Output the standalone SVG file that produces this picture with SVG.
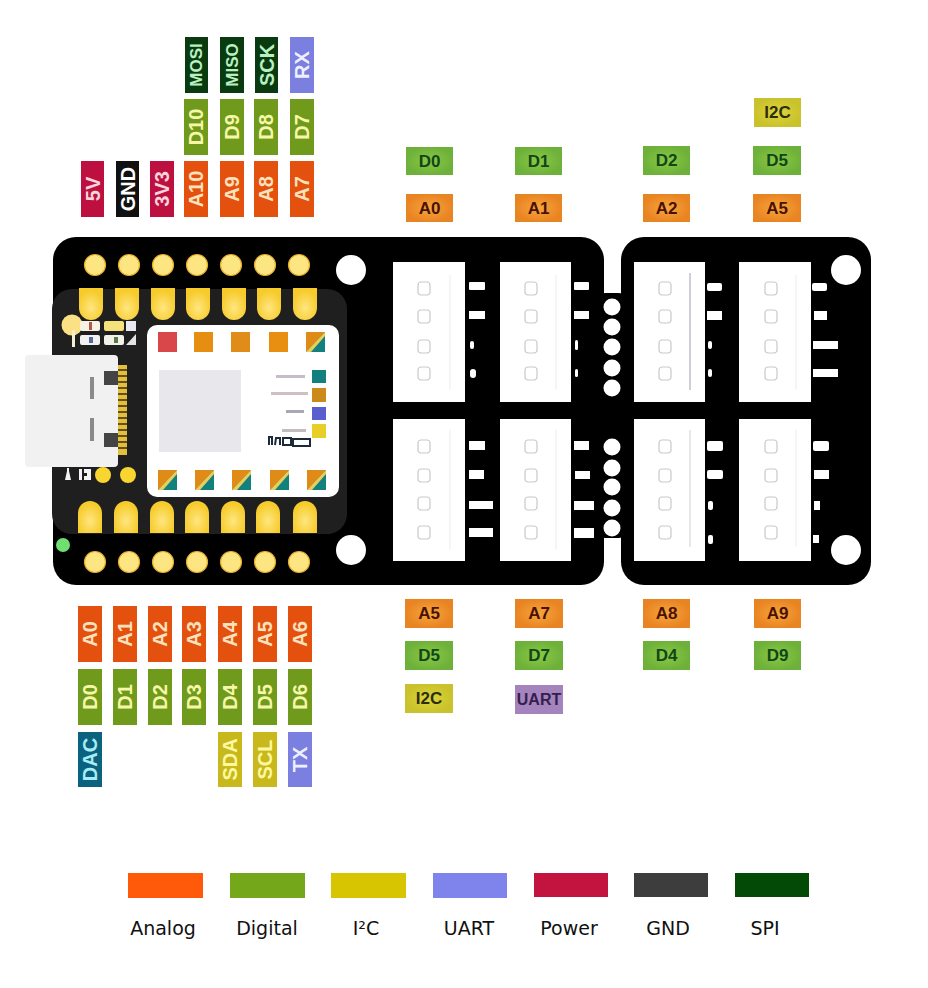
<svg xmlns="http://www.w3.org/2000/svg" width="928" height="988" viewBox="0 0 928 988">
<style>
text{font-family:"Liberation Sans",Arial,sans-serif;font-weight:700;text-anchor:middle;dominant-baseline:central}
.v{font-size:20px}.vs{font-size:17px}.h{font-size:17px}
.an{fill:#e4510f}.di{fill:#6f9a1b}.i2{fill:#c9b81c}.sp{fill:#0a3b10}.ua{fill:#7a7fe0}.pw{fill:#bd0f40}.gn{fill:#111}.da{fill:#0b627f}
.tan{fill:#fbe2bd}.tdi{fill:#f6f7a8}.ti2{fill:#fdf9a0}.tsp{fill:#b9f0c0}.tua{fill:#eef0ff}.tpw{fill:#fbd5dc}.tgn{fill:#fff}.tda{fill:#a8ecf5}
.ho{fill:url(#gO)}.hg{fill:url(#gG)}.hy{fill:url(#gY)}.hu{fill:#a583bd}
.dk{fill:#4a1206}.dg{fill:#0e4718}.dy{fill:#2d2d10}.dp{fill:#33204d}
.hole{fill:#fff}
.th{fill:#fde682;stroke:#e6ad2b;stroke-width:1.2}
.pad{fill:url(#gP)}
.conn{fill:#fff}
.mark{fill:none;stroke:#c9c9c9;stroke-width:1.2}
.pin{fill:#fff}
.lg{font-family:"DejaVu Sans",sans-serif;font-weight:400;font-size:19px;fill:#111}
</style>
<defs>
<radialGradient id="gO"><stop offset="0" stop-color="#f6a63c"/><stop offset="1" stop-color="#e98422"/></radialGradient>
<radialGradient id="gG"><stop offset="0" stop-color="#8cc844"/><stop offset="1" stop-color="#6eb13a"/></radialGradient>
<radialGradient id="gY"><stop offset="0" stop-color="#ddd53a"/><stop offset="1" stop-color="#c9c22c"/></radialGradient>
<radialGradient id="gP" cx="0.5" cy="0.62" r="0.55"><stop offset="0" stop-color="#ffe680"/><stop offset="1" stop-color="#f6cb2a"/></radialGradient>
<path id="padT" d="M-12 0h24v20a12 12 0 0 1-24 0z"/>
<path id="padB" d="M-12 32h24v-20a12 12 0 0 0-24 0z"/>
<g id="multi"><rect width="19" height="20" fill="#12807e"/><path d="M0 0h19L0 20z" fill="#e08a18"/><path d="M19 0v4L5 20H0z" fill="#e8cf5a"/></g>
<rect id="mk" x="-6" y="-6" width="12" height="13" rx="3" class="mark"/>
</defs>

<g id="labels-top">
<g id="p-5v"><rect x="81" y="161" width="23" height="56" class="pw"/><text class="v tpw" transform="translate(92.5 189) rotate(-90)">5V</text></g>
<g id="p-gnd"><rect x="116" y="161" width="23" height="56" class="gn"/><text class="v tgn" transform="translate(127.5 189) rotate(-90)">GND</text></g>
<g id="p-3v3"><rect x="150" y="161" width="24" height="56" class="pw"/><text class="v tpw" transform="translate(162 189) rotate(-90)">3V3</text></g>
<g id="p-a10"><rect x="184" y="161" width="24" height="56" class="an"/><text class="v tan" transform="translate(196 189) rotate(-90)">A10</text></g>
<g id="p-a9"><rect x="220" y="161" width="24" height="56" class="an"/><text class="v tan" transform="translate(232 189) rotate(-90)">A9</text></g>
<g id="p-a8"><rect x="254" y="161" width="24" height="56" class="an"/><text class="v tan" transform="translate(266 189) rotate(-90)">A8</text></g>
<g id="p-a7"><rect x="290" y="161" width="24" height="56" class="an"/><text class="v tan" transform="translate(302 189) rotate(-90)">A7</text></g>
<g id="p-d10"><rect x="184" y="99" width="24" height="56" class="di"/><text class="v tdi" transform="translate(196 127) rotate(-90)">D10</text></g>
<g id="p-d9"><rect x="220" y="99" width="24" height="56" class="di"/><text class="v tdi" transform="translate(232 127) rotate(-90)">D9</text></g>
<g id="p-d8"><rect x="254" y="99" width="24" height="56" class="di"/><text class="v tdi" transform="translate(266 127) rotate(-90)">D8</text></g>
<g id="p-d7"><rect x="290" y="99" width="24" height="56" class="di"/><text class="v tdi" transform="translate(302 127) rotate(-90)">D7</text></g>
<g id="p-mosi"><rect x="185" y="37" width="23" height="56" class="sp"/><text class="vs tsp" transform="translate(196.5 65) rotate(-90)">MOSI</text></g>
<g id="p-miso"><rect x="220" y="37" width="24" height="56" class="sp"/><text class="vs tsp" transform="translate(232 65) rotate(-90)">MISO</text></g>
<g id="p-sck"><rect x="255" y="37" width="23" height="56" class="sp"/><text class="v tsp" transform="translate(266.500 65) rotate(-90)">SCK</text></g>
<g id="p-rx"><rect x="290" y="37" width="24" height="56" class="ua"/><text class="v tua" transform="translate(302 65) rotate(-90)">RX</text></g>
</g>

<g id="labels-bottom">
<g id="b-a0"><rect x="78" y="606" width="24" height="56" class="an"/><text class="v tan" transform="translate(90 634) rotate(-90)">A0</text></g>
<g id="b-a1"><rect x="113" y="606" width="24" height="56" class="an"/><text class="v tan" transform="translate(125 634) rotate(-90)">A1</text></g>
<g id="b-a2"><rect x="148" y="606" width="24" height="56" class="an"/><text class="v tan" transform="translate(160 634) rotate(-90)">A2</text></g>
<g id="b-a3"><rect x="182" y="606" width="24" height="56" class="an"/><text class="v tan" transform="translate(194 634) rotate(-90)">A3</text></g>
<g id="b-a4"><rect x="218" y="606" width="24" height="56" class="an"/><text class="v tan" transform="translate(230 634) rotate(-90)">A4</text></g>
<g id="b-a5"><rect x="253" y="606" width="24" height="56" class="an"/><text class="v tan" transform="translate(265 634) rotate(-90)">A5</text></g>
<g id="b-a6"><rect x="288" y="606" width="24" height="56" class="an"/><text class="v tan" transform="translate(300 634) rotate(-90)">A6</text></g>
<g id="b-d0"><rect x="78" y="669" width="24" height="56" class="di"/><text class="v tdi" transform="translate(90 697) rotate(-90)">D0</text></g>
<g id="b-d1"><rect x="113" y="669" width="24" height="56" class="di"/><text class="v tdi" transform="translate(125 697) rotate(-90)">D1</text></g>
<g id="b-d2"><rect x="148" y="669" width="24" height="56" class="di"/><text class="v tdi" transform="translate(160 697) rotate(-90)">D2</text></g>
<g id="b-d3"><rect x="182" y="669" width="24" height="56" class="di"/><text class="v tdi" transform="translate(194 697) rotate(-90)">D3</text></g>
<g id="b-d4"><rect x="218" y="669" width="24" height="56" class="di"/><text class="v tdi" transform="translate(230 697) rotate(-90)">D4</text></g>
<g id="b-d5"><rect x="253" y="669" width="24" height="56" class="di"/><text class="v tdi" transform="translate(265 697) rotate(-90)">D5</text></g>
<g id="b-d6"><rect x="288" y="669" width="24" height="56" class="di"/><text class="v tdi" transform="translate(300 697) rotate(-90)">D6</text></g>
<g id="b-dac"><rect x="78" y="732" width="24" height="55" class="da"/><text class="v tda" transform="translate(90 759.500) rotate(-90)">DAC</text></g>
<g id="b-sda"><rect x="218" y="732" width="24" height="55" class="i2"/><text class="v ti2" transform="translate(230 759.500) rotate(-90)">SDA</text></g>
<g id="b-scl"><rect x="253" y="732" width="24" height="55" class="i2"/><text class="v ti2" transform="translate(265 759.500) rotate(-90)">SCL</text></g>
<g id="b-tx"><rect x="288" y="732" width="24" height="55" class="ua"/><text class="v tua" transform="translate(300 759.500) rotate(-90)">TX</text></g>
</g>

<g id="labels-grove-top">
<g id="g-d0"><rect x="406" y="147" width="47" height="28" class="hg"/><text class="h dg" x="429.500" y="161">D0</text></g>
<g id="g-a0"><rect x="406" y="194" width="47" height="28" class="ho"/><text class="h dk" x="429.500" y="208">A0</text></g>
<g id="g-d1"><rect x="515" y="147" width="47" height="28" class="hg"/><text class="h dg" x="538.500" y="161">D1</text></g>
<g id="g-a1"><rect x="515" y="194" width="47" height="28" class="ho"/><text class="h dk" x="538.500" y="208">A1</text></g>
<g id="g-d2"><rect x="643" y="146" width="47" height="29" class="hg"/><text class="h dg" x="666.500" y="160.500">D2</text></g>
<g id="g-a2"><rect x="643" y="194" width="47" height="28" class="ho"/><text class="h dk" x="666.500" y="208">A2</text></g>
<g id="g-i2c-t"><rect x="754" y="98" width="47" height="29" class="hy"/><text class="h dy" x="777.500" y="112.500">I2C</text></g>
<g id="g-d5-t"><rect x="753" y="146" width="48" height="29" class="hg"/><text class="h dg" x="777" y="160.500">D5</text></g>
<g id="g-a5-t"><rect x="753" y="194" width="48" height="28" class="ho"/><text class="h dk" x="777" y="208">A5</text></g>
</g>

<g id="labels-grove-bottom">
<g id="g-a5-b"><rect x="405" y="599" width="48" height="29" class="ho"/><text class="h dk" x="429" y="613.500">A5</text></g>
<g id="g-d5-b"><rect x="405" y="641" width="48" height="29" class="hg"/><text class="h dg" x="429" y="655.500">D5</text></g>
<g id="g-i2c-b"><rect x="405" y="684" width="48" height="29" class="hy"/><text class="h dy" x="429" y="698.500">I2C</text></g>
<g id="g-a7"><rect x="515" y="599" width="48" height="29" class="ho"/><text class="h dk" x="539" y="613.500">A7</text></g>
<g id="g-d7"><rect x="515" y="641" width="48" height="29" class="hg"/><text class="h dg" x="539" y="655.500">D7</text></g>
<g id="g-uart"><rect x="515" y="685" width="48" height="29" class="hu"/><text class="h dp" style="font-size:16px" x="539" y="699.500">UART</text></g>
<g id="g-a8"><rect x="643" y="599" width="47" height="29" class="ho"/><text class="h dk" x="666.500" y="613.500">A8</text></g>
<g id="g-d4"><rect x="643" y="641" width="47" height="29" class="hg"/><text class="h dg" x="666.500" y="655.500">D4</text></g>
<g id="g-a9"><rect x="754" y="599" width="47" height="29" class="ho"/><text class="h dk" x="777.500" y="613.500">A9</text></g>
<g id="g-d9"><rect x="754" y="641" width="47" height="29" class="hg"/><text class="h dg" x="777.500" y="655.500">D9</text></g>
</g>

<g id="board">
<rect x="53" y="237" width="551" height="348" rx="23" fill="#000"/>
<rect x="621" y="237" width="250" height="348" rx="23" fill="#000"/>
<rect x="598" y="293" width="28" height="245" rx="7" fill="#000"/>
<g class="hole">
<circle cx="351" cy="270" r="15"/><circle cx="351" cy="550" r="15"/><circle cx="846" cy="270" r="15"/><circle cx="846" cy="550" r="15"/>
<circle cx="612" cy="307" r="8.500"/><circle cx="612" cy="327" r="8.500"/><circle cx="612" cy="347" r="8.500"/><circle cx="612" cy="368" r="8.500"/><circle cx="612" cy="388" r="8.500"/>
<circle cx="612" cy="447" r="8.500"/><circle cx="612" cy="468" r="8.500"/><circle cx="612" cy="487" r="8.500"/><circle cx="612" cy="508" r="8.500"/><circle cx="612" cy="528" r="8.500"/>
</g>
<g class="th">
<circle cx="95" cy="265" r="10.500"/><circle cx="129" cy="265" r="10.500"/><circle cx="163" cy="265" r="10.500"/><circle cx="197" cy="265" r="10.500"/><circle cx="231" cy="265" r="10.500"/><circle cx="265" cy="265" r="10.500"/><circle cx="299" cy="265" r="10.500"/>
<circle cx="95" cy="562" r="10.500"/><circle cx="129" cy="562" r="10.500"/><circle cx="163" cy="562" r="10.500"/><circle cx="197" cy="562" r="10.500"/><circle cx="231" cy="562" r="10.500"/><circle cx="265" cy="562" r="10.500"/><circle cx="299" cy="562" r="10.500"/>
</g>
<circle cx="63" cy="545" r="7" fill="#6fe070"/>
</g>

<g id="module">
<rect x="52" y="289" width="295" height="245" rx="20" fill="#1f1f1f"/>
<g class="pad">
<use href="#padT" x="91" y="288"/><use href="#padT" x="127" y="288"/><use href="#padT" x="163" y="288"/><use href="#padT" x="198" y="288"/><use href="#padT" x="234" y="288"/><use href="#padT" x="269" y="288"/><use href="#padT" x="305" y="288"/>
<use href="#padB" x="90" y="501"/><use href="#padB" x="126" y="501"/><use href="#padB" x="162" y="501"/><use href="#padB" x="197" y="501"/><use href="#padB" x="233" y="501"/><use href="#padB" x="268" y="501"/><use href="#padB" x="305" y="501"/>
</g>
<circle cx="72" cy="325" r="10.500" fill="#fbe183"/>
<rect x="72" y="330" width="3" height="17" fill="#f5f0d0"/>
<rect x="80" y="321" width="20" height="10" rx="2" fill="#f7f2e4"/>
<rect x="104" y="321" width="20" height="10" rx="2" fill="#f6e27a"/>
<rect x="126" y="321" width="10" height="10" fill="#e9e9f2"/>
<rect x="80" y="335" width="20" height="10" rx="2" fill="#f2f2f2"/>
<rect x="104" y="335" width="20" height="10" rx="2" fill="#f2f2ea"/>
<path d="M136 334v11h-10z" fill="#e4e4e4"/>
<rect x="89" y="337" width="4" height="6" fill="#5a6a9a"/><rect x="114" y="337" width="4" height="6" fill="#5a7a4a"/><rect x="89" y="322" width="3" height="8" fill="#b05a4a"/>
<path d="M65 480l2-9v-3h2v3l2 9zM79 469h3v11h-3zM84 469h7v11h-7z" fill="#f4f4f4"/>
<rect x="83" y="473" width="4" height="3" fill="#1f1f1f"/>
<circle cx="103" cy="475" r="8" fill="#f9d52f"/><circle cx="128" cy="475" r="8" fill="#f9d52f"/>
<g id="usb">
<rect x="118" y="365" width="9" height="90" fill="#e3bf3e"/>
<path d="M118 370h9M118 376h9M118 382h9M118 388h9M118 394h9M118 400h9M118 406h9M118 412h9M118 418h9M118 424h9M118 430h9M118 436h9M118 442h9M118 448h9" stroke="#3a2c10" stroke-width="1.500"/>
<rect x="25" y="355" width="93" height="112" rx="4" fill="#f1f1f1"/>
<rect x="104" y="371" width="14" height="14" fill="#444"/><rect x="104" y="433" width="14" height="14" fill="#444"/>
<rect x="90" y="377" width="4" height="22" fill="#8a8a8a"/><rect x="90" y="418" width="4" height="23" fill="#8a8a8a"/>
</g>
<g id="mcu">
<rect x="147" y="325" width="192" height="172" rx="10" fill="#fff"/>
<rect x="158" y="332" width="19" height="20" fill="#d9474a"/>
<rect x="194" y="332" width="19" height="20" fill="#e58e12"/><rect x="231" y="332" width="19" height="20" fill="#e08c18"/><rect x="269" y="332" width="19" height="20" fill="#e88e10"/>
<use href="#multi" x="306" y="332"/>
<rect x="159" y="370" width="82" height="82" fill="#e8e8ec"/>
<rect x="312" y="370" width="14" height="13" fill="#12807e"/><rect x="312" y="388" width="14" height="14" fill="#cb8a1a"/><rect x="312" y="407" width="14" height="13" fill="#5a5fd0"/><rect x="312" y="424" width="14" height="14" fill="#e8cf28"/>
<rect x="276" y="375" width="29" height="3" fill="#c4bccb"/><rect x="271" y="392" width="37" height="3" fill="#cfc0c4"/><rect x="286" y="410" width="18" height="3" fill="#a8a8b4"/><rect x="282" y="429" width="24" height="3" fill="#c2bcc0"/>
<path d="M269 445v-8h3v8M275 445l1-7h4v7M283 438h8v7h-8zM293 439h17v7h-17z" fill="none" stroke="#1c2a3a" stroke-width="2"/>
<use href="#multi" x="158" y="470"/><use href="#multi" x="195" y="470"/><use href="#multi" x="232" y="470"/><use href="#multi" x="270" y="470"/><use href="#multi" x="307" y="470"/>
</g>
</g>

<g id="grove-connectors">
<g class="conn">
<rect x="393" y="262" width="72" height="140"/><rect x="500" y="262" width="71" height="140"/><rect x="634" y="262" width="71" height="140"/><rect x="739" y="262" width="72" height="140"/>
<rect x="393" y="419" width="72" height="142"/><rect x="500" y="419" width="71" height="142"/><rect x="634" y="419" width="71" height="142"/><rect x="739" y="419" width="72" height="142"/>
</g>
<path d="M450 275v115M556 275v115M796 275v115M450 430v120M556 430v120M796 430v117" stroke="#ececec" stroke-width="1"/>
<path d="M690 273v117" stroke="#a79ab5" stroke-width="1"/><path d="M690 430v117" stroke="#d4ced8" stroke-width="1"/>
<g>
<use href="#mk" x="424" y="288"/><use href="#mk" x="424" y="316"/><use href="#mk" x="424" y="346"/><use href="#mk" x="424" y="373"/>
<use href="#mk" x="531" y="288"/><use href="#mk" x="531" y="316"/><use href="#mk" x="531" y="346"/><use href="#mk" x="531" y="373"/>
<use href="#mk" x="665" y="288"/><use href="#mk" x="665" y="316"/><use href="#mk" x="665" y="346"/><use href="#mk" x="665" y="373"/>
<use href="#mk" x="771" y="288"/><use href="#mk" x="771" y="316"/><use href="#mk" x="771" y="346"/><use href="#mk" x="771" y="373"/>
<use href="#mk" x="424" y="446"/><use href="#mk" x="424" y="475"/><use href="#mk" x="424" y="503"/><use href="#mk" x="424" y="532"/>
<use href="#mk" x="531" y="446"/><use href="#mk" x="531" y="475"/><use href="#mk" x="531" y="503"/><use href="#mk" x="531" y="532"/>
<use href="#mk" x="665" y="446"/><use href="#mk" x="665" y="475"/><use href="#mk" x="665" y="503"/><use href="#mk" x="665" y="532"/>
<use href="#mk" x="771" y="446"/><use href="#mk" x="771" y="475"/><use href="#mk" x="771" y="503"/><use href="#mk" x="771" y="532"/>
</g>
<g class="pin">
<rect x="469" y="282" width="16" height="8" rx="1"/><rect x="469" y="311" width="16" height="8"/><rect x="470" y="341" width="4" height="8" rx="2"/><rect x="470" y="369" width="6" height="9" rx="3"/>
<rect x="574" y="282" width="15" height="8" rx="1"/><rect x="574" y="311" width="15" height="8"/><rect x="575" y="340" width="3" height="10" rx="1.500"/><rect x="575" y="369" width="3" height="8" rx="1.500"/>
<rect x="707" y="283" width="15" height="8" rx="2"/><rect x="707" y="311" width="15" height="9"/><rect x="708" y="341" width="4" height="8" rx="2"/><rect x="708" y="369" width="4" height="8" rx="2"/>
<rect x="812" y="283" width="15" height="8" rx="2"/><rect x="814" y="311" width="13" height="9"/><rect x="813" y="341" width="25" height="8"/><rect x="813" y="369" width="25" height="8"/>
<rect x="469" y="441" width="16" height="9"/><rect x="469" y="470" width="15" height="9"/><rect x="469" y="501" width="24" height="8"/><rect x="469" y="528" width="24" height="9"/>
<rect x="574" y="441" width="15" height="9"/><rect x="575" y="471" width="15" height="8"/><rect x="574" y="501" width="20" height="9"/><rect x="574" y="528" width="20" height="10"/>
<rect x="707" y="441" width="16" height="10" rx="2"/><rect x="707" y="470" width="16" height="9" rx="2"/><rect x="708" y="501" width="5" height="9" rx="2"/><rect x="708" y="535" width="5" height="9" rx="2"/>
<rect x="813" y="441" width="16" height="10" rx="2"/><rect x="814" y="470" width="15" height="9"/><rect x="814" y="501" width="6" height="9"/><rect x="813" y="535" width="6" height="8"/>
</g>
</g>

<g id="legend">
<g id="lg-analog"><rect x="128" y="873" width="75" height="25" fill="#ff5a0a"/><text class="lg" x="163" y="928">Analog</text></g>
<g id="lg-digital"><rect x="230" y="873" width="75" height="25" fill="#75a71a"/><text class="lg" x="267" y="928">Digital</text></g>
<g id="lg-i2c"><rect x="331" y="873" width="75" height="25" fill="#d6c500"/><text class="lg" x="366" y="928">I²C</text></g>
<g id="lg-uart"><rect x="433" y="873" width="74" height="25" fill="#7f83ec"/><text class="lg" x="469" y="928">UART</text></g>
<g id="lg-power"><rect x="534" y="873" width="74" height="24" fill="#c2143f"/><text class="lg" x="569" y="928">Power</text></g>
<g id="lg-gnd"><rect x="634" y="873" width="74" height="24" fill="#3d3d3d"/><text class="lg" x="668" y="928">GND</text></g>
<g id="lg-spi"><rect x="735" y="873" width="74" height="24" fill="#044a07"/><text class="lg" x="765" y="928">SPI</text></g>
</g>
<g id="connectors"/>
</svg>
